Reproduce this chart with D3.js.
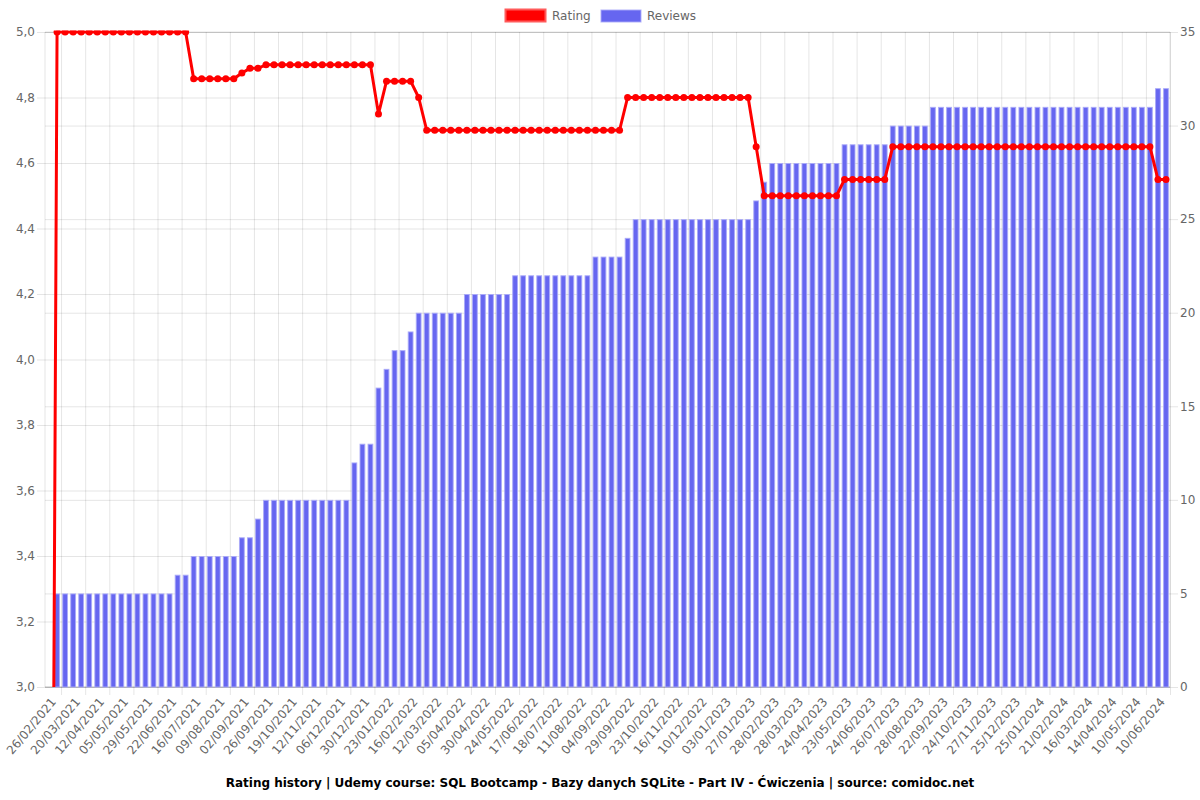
<!DOCTYPE html>
<html>
<head>
<meta charset="utf-8">
<script src="https://cdn.jsdelivr.net/npm/d3@7"></script>
<style>
  html, body { margin: 0; padding: 0; background: #fff; }
  svg { display: block; font-family: "DejaVu Sans", sans-serif; }
</style>
</head>
<body>
<svg id="chart" width="1200" height="800"></svg>
<script>
// ---- data ----
const tickLabels = ["26/02/2021","20/03/2021","12/04/2021","05/05/2021","29/05/2021","22/06/2021","16/07/2021","09/08/2021","02/09/2021","26/09/2021","19/10/2021","12/11/2021","06/12/2021","30/12/2021","23/01/2022","16/02/2022","12/03/2022","05/04/2022","30/04/2022","24/05/2022","17/06/2022","18/07/2022","11/08/2022","04/09/2022","29/09/2022","23/10/2022","16/11/2022","10/12/2022","03/01/2023","27/01/2023","28/02/2023","28/03/2023","24/04/2023","23/05/2023","24/06/2023","26/07/2023","28/08/2023","22/09/2023","24/10/2023","27/11/2023","25/12/2023","25/01/2024","21/02/2024","16/03/2024","14/04/2024","10/05/2024","10/06/2024"];
const tickEvery = 3; // one label shown per 3 categories

const rating = [
  0,
  5,5,5,5,5,5,5,5,5,5,5,5,5,5,5,5,5,
  4.857,4.857,4.857,4.857,4.857,4.857,
  4.875,4.889,4.889,
  4.9,4.9,4.9,4.9,4.9,4.9,4.9,4.9,4.9,4.9,4.9,4.9,4.9,4.9,
  4.75,
  4.85,4.85,4.85,4.85,
  4.8,
  4.7,4.7,4.7,4.7,4.7,4.7,4.7,4.7,4.7,4.7,4.7,4.7,4.7,4.7,4.7,4.7,4.7,4.7,4.7,4.7,4.7,4.7,4.7,4.7,4.7,
  4.8,4.8,4.8,4.8,4.8,4.8,4.8,4.8,4.8,4.8,4.8,4.8,4.8,4.8,4.8,4.8,
  4.65,
  4.5,4.5,4.5,4.5,4.5,4.5,4.5,4.5,4.5,4.5,
  4.55,4.55,4.55,4.55,4.55,4.55,
  4.65,4.65,4.65,4.65,4.65,4.65,4.65,4.65,4.65,4.65,4.65,4.65,4.65,4.65,4.65,4.65,4.65,4.65,4.65,4.65,4.65,4.65,4.65,4.65,4.65,4.65,4.65,4.65,4.65,4.65,4.65,4.65,4.65,
  4.55,4.55
];

const reviews = [
  0,
  5,5,5,5,5,5,5,5,5,5,5,5,5,5,5,
  6,6,
  7,7,7,7,7,7,
  8,8,
  9,
  10,10,10,10,10,10,10,10,10,10,10,
  12,
  13,13,
  16,
  17,
  18,18,
  19,
  20,20,20,20,20,20,
  21,21,21,21,21,21,
  22,22,22,22,22,22,22,22,22,22,
  23,23,23,23,
  24,
  25,25,25,25,25,25,25,25,25,25,25,25,25,25,25,
  26,
  27,
  28,28,28,28,28,28,28,28,28,
  29,29,29,29,29,29,
  30,30,30,30,30,
  31,31,31,31,31,31,31,31,31,31,31,31,31,31,31,31,31,31,31,31,31,31,31,31,31,31,31,31,
  32,32
];

const leftTicks = [3.0,3.2,3.4,3.6,3.8,4.0,4.2,4.4,4.6,4.8,5.0];
const rightTicks = [0,5,10,15,20,25,30,35];
const titleText = "Rating history | Udemy course: SQL Bootcamp - Bazy danych SQLite - Part IV - Ćwiczenia | source: comidoc.net";

// ---- layout ----
const L = 45, R = 1170, T = 32, B = 687;
const N = rating.length;
const gridColor = "rgba(0,0,0,0.1)";
const textColor = "#666";
const barFill = "rgb(102,102,240)";

const svg = d3.select("#chart");

const x = d3.scaleBand().domain(d3.range(N)).range([L, R]).paddingInner(0).paddingOuter(0);
const xEdge = d3.scaleLinear().domain([0, N]).range([L, R]);
const yL = d3.scaleLinear().domain([3, 5]).range([B, T]);
const yR = d3.scaleLinear().domain([0, 35]).range([B, T]);
const cx = i => x(i) + x.bandwidth() / 2;

// right axis + its grid
const gR = svg.append("g").attr("transform", `translate(${R},0)`)
  .call(d3.axisRight(yR).tickValues(rightTicks).tickSize(8).tickPadding(2).tickFormat(d3.format("d")));
gR.select(".domain").remove();
gR.selectAll(".tick line").attr("stroke", gridColor).attr("x1", -(R - L)).attr("x2", 8);
gR.selectAll(".tick text").attr("fill", textColor).style("font-size", "12px").attr("font-family", "DejaVu Sans");

// left axis + its grid
const gL = svg.append("g").attr("transform", `translate(${L},0)`)
  .call(d3.axisLeft(yL).tickValues(leftTicks).tickSize(8).tickPadding(2)
    .tickFormat(d => d.toFixed(1).replace(".", ",")));
gL.select(".domain").remove();
gL.selectAll(".tick line").attr("stroke", gridColor).attr("x1", -8).attr("x2", R - L);
gL.selectAll(".tick text").attr("fill", textColor).style("font-size", "12px").attr("font-family", "DejaVu Sans");

// vertical gridlines (offset between labelled categories)
const gridIdx = d3.range(1, tickLabels.length + 1).map(k => Math.min(k * tickEvery - 1, N));
const gX = svg.append("g").attr("transform", `translate(0,${B})`)
  .call(d3.axisBottom(xEdge).tickValues(gridIdx).tickSize(8).tickFormat(""));
gX.select(".domain").remove();
gX.selectAll(".tick line").attr("stroke", gridColor).attr("y1", -(B - T)).attr("y2", 8);

// axis borders
svg.append("line").attr("x1", L).attr("x2", L).attr("y1", T).attr("y2", B).attr("stroke", gridColor);
svg.append("line").attr("x1", R).attr("x2", R).attr("y1", T).attr("y2", B).attr("stroke", gridColor);
svg.append("line").attr("x1", L).attr("x2", R).attr("y1", B).attr("y2", B).attr("stroke", "rgba(0,0,0,0.25)");
svg.append("line").attr("x1", L).attr("x2", R).attr("y1", T).attr("y2", T).attr("stroke", gridColor);

// x labels
const labG = svg.append("g");
tickLabels.forEach((lab, k) => {
  const px = cx(k * tickEvery);
  labG.append("text")
    .attr("transform", `translate(${px + 5},${B + 13}) rotate(-50)`)
    .attr("text-anchor", "end")
    .attr("dominant-baseline", "middle")
    .attr("fill", textColor)
    .style("font-size", "12px")
    .text(lab);
});

// bars
const bw = x.bandwidth() * 0.72;
svg.append("g").selectAll("rect").data(reviews).join("rect")
  .attr("x", (d, i) => cx(i) - bw / 2 + 0.5)
  .attr("width", bw - 1)
  .attr("y", d => yR(d) + 0.5)
  .attr("height", d => Math.max(0, B - yR(d) - 0.5))
  .attr("fill", barFill)
  .attr("stroke", "rgba(170,170,248,0.9)")
  .attr("stroke-width", 1)
  .attr("display", d => d > 0 ? null : "none");

// line (clipped)
svg.append("clipPath").attr("id", "clip")
  .append("rect").attr("x", L - 2).attr("y", T - 1.5).attr("width", R - L + 4).attr("height", B - T + 1.5);
const lg = svg.append("g").attr("clip-path", "url(#clip)");
lg.append("path")
  .datum(rating)
  .attr("fill", "none")
  .attr("stroke", "#ff0000")
  .attr("stroke-width", 3)
  .attr("stroke-linejoin", "round")
  .attr("d", d3.line().x((d, i) => cx(i)).y(d => yL(d)));
lg.selectAll("circle").data(rating).join("circle")
  .attr("cx", (d, i) => cx(i))
  .attr("cy", d => yL(d))
  .attr("r", 3.5)
  .attr("fill", "#ff0000");

// legend
const leg = svg.append("g");
leg.append("rect").attr("x", 505.5).attr("y", 9.5).attr("width", 40).attr("height", 12)
  .attr("fill", "#ff0000").attr("stroke", "rgba(255,90,90,1)").attr("stroke-width", 2);
leg.append("text").attr("x", 552).attr("y", 16).attr("dominant-baseline", "middle")
  .attr("fill", textColor).style("font-size", "12px").text("Rating");
leg.append("rect").attr("x", 601).attr("y", 10).attr("width", 40).attr("height", 12)
  .attr("fill", barFill).attr("stroke", "rgba(170,170,248,0.9)").attr("stroke-width", 1);
leg.append("text").attr("x", 647).attr("y", 16).attr("dominant-baseline", "middle")
  .attr("fill", textColor).style("font-size", "12px").text("Reviews");

// title
svg.append("text").attr("x", 600).attr("y", 783).attr("text-anchor", "middle")
  .attr("dominant-baseline", "middle")
  .attr("fill", "#000").style("font-size", "12px").style("font-weight", "bold")
  .text(titleText);
</script>
</body>
</html>
